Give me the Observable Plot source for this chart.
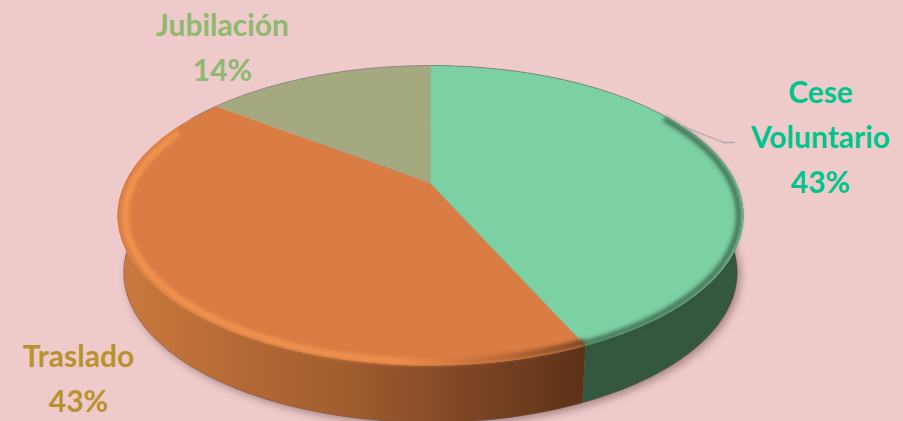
<!DOCTYPE html>
<html>
<head>
<meta charset="utf-8">
<script src="https://cdn.jsdelivr.net/npm/d3@7"></script>
<script src="https://cdn.jsdelivr.net/npm/@observablehq/plot@0.6"></script>
<style>
html,body{margin:0;padding:0;background:#eecbca;overflow:hidden}
svg{display:block}
</style>
</head>
<body>
<div id="chart"></div>
<script>
const categories = ["Cese\nVoluntario", "Traslado", "Jubilación"];
const percents = [43, 43, 14];
const topColors = ["#7bd0a4", "#d97d44", "#a4a97f"];
const labelColors = ["#00c48c", "#b8922e", "#8fb870"];

// Unit-circle scene: the rim of the top face has radius 1 on both scales
const W = 903, H = 421;
const xDomain = [-430 / 313, 473 / 313];
const yDomain = [-206 / 150, 215 / 150];
const skew = 0.085, depth = 0.38, taper = 0.98;
const apex = {x: 0, y: 32 / 150};

function rim(f, inset = 1) {
  const th = 2 * Math.PI * f, wr = Math.sin(th), wi = Math.cos(th);
  const nr = wr, ni = wi + skew, dr = 1 + skew * wi, di = -skew * wr;
  const d = dr * dr + di * di;
  return {x: inset * (nr * dr + ni * di) / d, y: inset * (ni * dr - nr * di) / d};
}
const low = (p) => ({x: p.x * taper, y: p.y - depth});
const arc = (a, b, inset = 1) => d3.range(0, 121).map((i) => rim(a + (b - a) * i / 120, inset));

const total = d3.sum(percents);
const stops = d3.cumsum(percents).map((v) => v / total);
const starts = [0, ...stops.slice(0, -1)];
const topSlice = (i) => [apex, ...arc(starts[i], stops[i])];
const sideSlice = (i) => { const r = arc(starts[i], stops[i]); return [...r, ...r.map(low).reverse()]; };
const whole = arc(0, 1);

const labelRows = categories.map((c, i) => ({text: `${c}\n${percents[i]}%`, color: labelColors[i]}));
const labelAt = [{x: 390 / 313, y: 82 / 150}, {x: -352 / 313, y: -160 / 150}, {x: -208 / 313, y: 171 / 150}];
const leader = [rim(0.17, 1.0), {x: 293 / 313, y: 73 / 150}, {x: 304 / 313, y: 73 / 150}];

const line = (d, o) => Plot.line(d, {x: "x", y: "y", curve: "linear", ...o});

const plot = Plot.plot({
  width: W, height: H, margin: 0,
  x: {domain: xDomain, axis: null},
  y: {domain: yDomain, axis: null},
  style: {background: "#eecbca"},
  marks: [
    line(whole.map(low), {fill: "#5a3a3a", fillOpacity: 0.5, stroke: "none", dx: 3, dy: 3, imageFilter: "blur(4px)"}),
    line(sideSlice(0), {fill: "#33573f", stroke: "none"}),
    line(sideSlice(1), {fill: "url(#sideOrange)", stroke: "none"}),
    line(whole.map(low), {stroke: "#6a4a40", strokeWidth: 0.8, strokeOpacity: 0.6}),
    ...[2, 1, 0].map((i) => line(topSlice(i), {fill: topColors[i], stroke: "none"})),
    line(arc(0.16, 0.43, 0.985), {stroke: "#33573f", strokeWidth: 5, strokeOpacity: 0.85, imageFilter: "blur(2px)"}),
    line(arc(0.43, 0.82, 0.975), {stroke: "url(#bevelOrange)", strokeWidth: 6, imageFilter: "blur(2px)"}),
    line(arc(0.84, 1.16), {stroke: "#7d7474", strokeWidth: 1, strokeOpacity: 0.7}),
    line(leader, {stroke: "#a9a9a9", strokeWidth: 1.3}),
    Plot.text(labelRows, {
      x: labelAt.map((d) => d.x), y: labelAt.map((d) => d.y),
      text: "text", fill: "color", lineHeight: 1.5,
      fontFamily: "Lato", fontWeight: 700, fontSize: 30, textAnchor: "middle"
    })
  ]
});

const px = plot.scale("x").apply;
const defs = d3.select(plot).append("defs");
function gradient(id, rows) {
  const g = defs.append("linearGradient").attr("id", id).attr("gradientUnits", "userSpaceOnUse")
    .attr("x1", px(-1)).attr("x2", px(rim(stops[0]).x)).attr("y1", 0).attr("y2", 0);
  rows.forEach(([o, c]) => g.append("stop").attr("offset", o).attr("stop-color", c));
}
gradient("sideOrange", [[0, "#cc7a3e"], [0.25, "#b56a35"], [0.5, "#a05c2e"], [0.75, "#7d4525"], [1, "#5c3218"]]);
gradient("bevelOrange", [[0, "#f4964f"], [0.6, "#f0914e"], [0.8, "#bd6a38"], [1, "#6e3c1c"]]);
document.getElementById("chart").append(plot);
</script>
</body>
</html>
